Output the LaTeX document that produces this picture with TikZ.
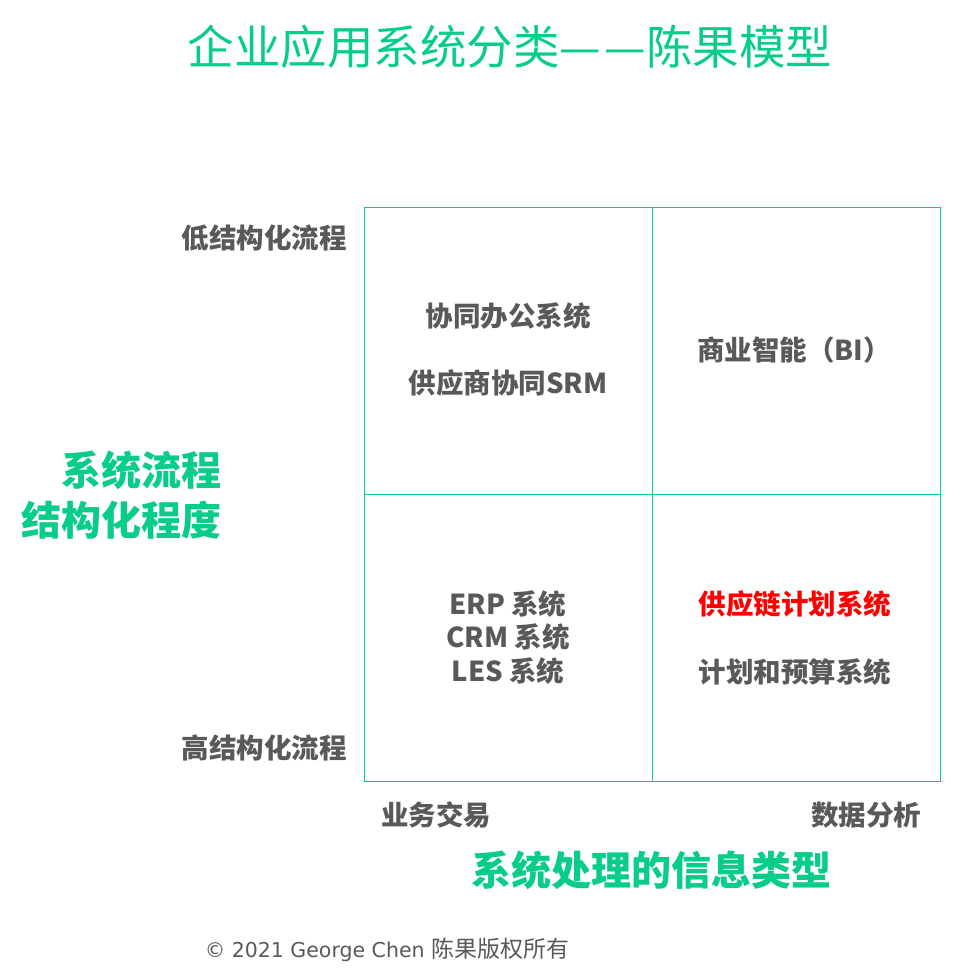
\documentclass[tikz,border=0pt]{standalone}
\usepackage{fontspec}
\setmainfont{Noto Sans CJK SC}
\newfontfamily\latinft{DejaVu Sans}
\definecolor{gr}{RGB}{8,204,140}
\definecolor{gy}{RGB}{89,89,89}
\definecolor{rd}{RGB}{255,0,0}
\begin{document}
\begin{tikzpicture}[x=1pt,y=-1pt,
  cell/.style={draw=gr,line width=1pt,minimum width=288pt,minimum height=287pt,inner sep=0pt,anchor=north west},
  lab/.style={text=gy,font=\fontsize{27.5}{32}\selectfont\bfseries,inner sep=0pt},
  axis/.style={text=gr,font=\fontsize{40}{46}\selectfont\bfseries,inner sep=0pt},
]
\useasboundingbox (0,0) rectangle (960,980);
\node[cell] (c1) at (364,207) {};
\node[cell] (c2) at (652,207) {};
\node[cell] (c3) at (364,494) {};
\node[cell] (c4) at (652,494) {};
\node[text=gr,font=\fontsize{46.5}{52}\selectfont,inner sep=0pt] (title) at (510,47) {企业应用系统分类—\kern3pt—陈果模型};
\node[lab,anchor=east] (low) at (347,238) {低结构化流程};
\node[lab,anchor=east] (high) at (347,748) {高结构化流程};
\node[axis,anchor=east] (ya1) at (222,470) {系统流程};
\node[axis,anchor=east] (ya2) at (222,520) {结构化程度};
\node[lab] (t1) at (508,316) {协同办公系统};
\node[lab] (t2) at (508,383) {供应商协同SRM};
\node[lab] (t3) at (794,350) {商业智能（BI）};
\node[lab] (t4) at (508,604) {ERP 系统};
\node[lab] (t5) at (508,637) {CRM 系统};
\node[lab] (t6) at (508,671) {LES 系统};
\node[lab,text=rd] (t7) at (795,604) {供应链计划系统};
\node[lab] (t8) at (795,672) {计划和预算系统};
\node[lab] (x1) at (436,815) {业务交易};
\node[lab] (x2) at (866,815) {数据分析};
\node[axis] (xa) at (651,870) {系统处理的信息类型};
\node[text=gy,font=\fontsize{23}{27}\selectfont,inner sep=0pt] (foot) at (387,950) {{\latinft\fontsize{20.5}{25}\selectfont © 2021 George Chen }陈果版权所有};
\end{tikzpicture}
\end{document}
